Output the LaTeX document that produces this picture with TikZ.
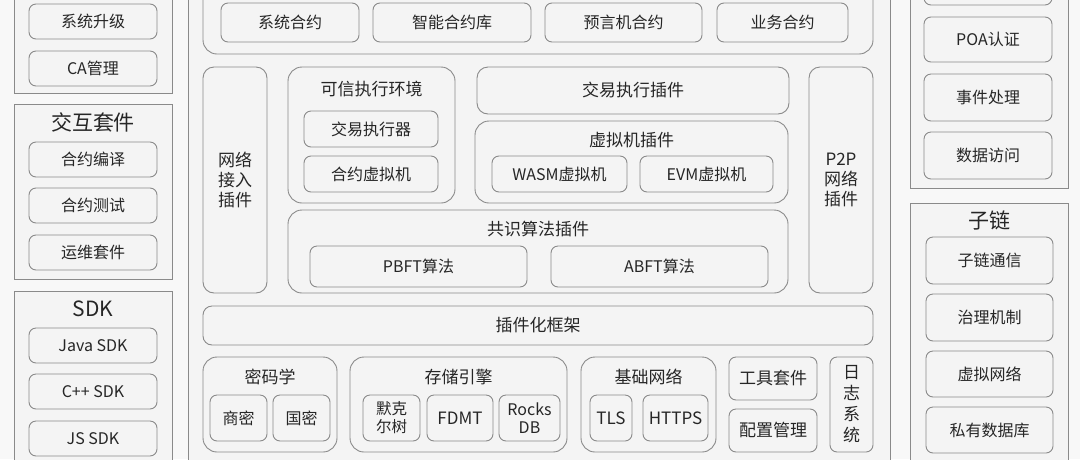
\documentclass[tikz,border=0pt]{standalone}
\usepackage{fontspec}
\setmainfont{Noto Sans CJK SC}
\definecolor{bgc}{HTML}{F8F8F8}
\definecolor{boxc}{HTML}{F4F4F4}
\definecolor{linec}{HTML}{8A8A8A}
\definecolor{textc}{HTML}{262626}
\begin{document}
\begin{tikzpicture}[x=1pt,y=-1pt,
  frame/.style={draw=linec, fill=boxc, line width=0.9pt, inner sep=0pt},
  cont/.style={draw=linec, fill=boxc, line width=0.9pt, rounded corners=14pt, inner sep=0pt},
  item/.style={draw=linec, fill=boxc, line width=0.9pt, rounded corners=7pt, inner sep=0pt, text=textc, font=\fontsize{16}{19}\selectfont, align=center},
  big/.style={item, font=\fontsize{17}{20}\selectfont},
  ttl/.style={text=textc, font=\fontsize{17}{20}\selectfont, inner sep=0pt},
  coltitle/.style={text=textc, font=\fontsize{21}{24}\selectfont, inner sep=0pt}]
\useasboundingbox (0,0) rectangle (1080,459);
\clip (0,0) rectangle (1080,459);
\fill[bgc] (0,0) rectangle (1080,459);

% ---------- left column ----------
\node[frame, minimum width=158pt, minimum height=103pt] (L1) at (93,41.5) {};
\node[item, minimum width=128pt, minimum height=35pt] (sysup) at (93,21.5) {系统升级};
\node[item, minimum width=128pt, minimum height=35pt] (ca) at (93,68.5) {CA管理};

\node[frame, minimum width=158pt, minimum height=175pt] (L2) at (93,191.5) {};
\node[coltitle] (L2t) at (93,122) {交互套件};
\node[item, minimum width=128pt, minimum height=35pt] (compile) at (93,159.5) {合约编译};
\node[item, minimum width=128pt, minimum height=35pt] (test) at (93,205.5) {合约测试};
\node[item, minimum width=128pt, minimum height=35pt] (ops) at (93,252.5) {运维套件};

\node[frame, minimum width=158pt, minimum height=179pt] (L3) at (93,380.5) {};
\node[coltitle] (L3t) at (93,309) {SDK};
\node[item, minimum width=128pt, minimum height=35pt] (java) at (93,345.5) {Java SDK};
\node[item, minimum width=128pt, minimum height=35pt] (cpp) at (93,391.5) {C++ SDK};
\node[item, minimum width=128pt, minimum height=35pt] (js) at (93,438.5) {JS SDK};

% ---------- core frame ----------
\node[frame, minimum width=702pt, minimum height=480pt] (core) at (539,230) {};

\node[cont, minimum width=670pt, minimum height=74pt] (contracts) at (538,17) {};
\node[item, minimum width=138pt, minimum height=39pt] (sc1) at (290,22.5) {系统合约};
\node[item, minimum width=158pt, minimum height=39pt] (sc2) at (452,22.5) {智能合约库};
\node[item, minimum width=157pt, minimum height=39pt] (sc3) at (623.5,22.5) {预言机合约};
\node[item, minimum width=131pt, minimum height=39pt] (sc4) at (782.5,22.5) {业务合约};

\node[big, rounded corners=11pt, minimum width=64pt, minimum height=226pt] (netin) at (235,180) {网络\\接入\\插件};

\node[cont, minimum width=167pt, minimum height=136pt] (tee) at (371.5,135) {};
\node[ttl] (teet) at (371.5,89) {可信执行环境};
\node[item, minimum width=134pt, minimum height=36pt] (txexec) at (371,129) {交易执行器};
\node[item, minimum width=134pt, minimum height=36pt] (cvm) at (371,174) {合约虚拟机};

\node[big, rounded corners=11pt, minimum width=312pt, minimum height=47pt] (txplug) at (633,90.5) {交易执行插件};

\node[cont, minimum width=313pt, minimum height=82pt] (vmplug) at (631.5,162) {};
\node[ttl] (vmplugt) at (631.5,140) {虚拟机插件};
\node[item, minimum width=135pt, minimum height=36pt] (wasm) at (559.5,174) {WASM虚拟机};
\node[item, minimum width=133pt, minimum height=36pt] (evm) at (706.5,174) {EVM虚拟机};

\node[big, rounded corners=11pt, minimum width=64pt, minimum height=226pt] (p2p) at (841,180) {P2P\\网络\\插件};

\node[cont, minimum width=500pt, minimum height=83pt] (cons) at (538,251.5) {};
\node[ttl] (const) at (538,229) {共识算法插件};
\node[item, minimum width=217pt, minimum height=41pt] (pbft) at (418.5,266.5) {PBFT算法};
\node[item, minimum width=217pt, minimum height=41pt] (abft) at (659.5,266.5) {ABFT算法};

\node[big, rounded corners=9pt, minimum width=670pt, minimum height=39pt] (fw) at (538,325.5) {插件化框架};

% bottom row
\node[cont, minimum width=134pt, minimum height=95pt] (crypto) at (270,404.5) {};
\node[ttl] (cryptot) at (270,377) {密码学};
\node[item, minimum width=57pt, minimum height=46pt] (sm) at (238.5,418) {商密};
\node[item, minimum width=57pt, minimum height=46pt] (gm) at (301.5,418) {国密};

\node[cont, minimum width=217pt, minimum height=95pt] (store) at (458.5,404.5) {};
\node[ttl] (storet) at (458.5,377) {存储引擎};
\node[item, minimum width=57pt, minimum height=46pt, font=\fontsize{15.5}{18}\selectfont] (merkle) at (391.5,418) {默克\\尔树};
\node[item, minimum width=66pt, minimum height=46pt, font=\fontsize{17}{20}\selectfont] (fdmt) at (460,418) {FDMT};
\node[item, minimum width=61pt, minimum height=46pt, font=\fontsize{16}{18}\selectfont] (rocks) at (529.5,418) {Rocks\\DB};

\node[cont, minimum width=135pt, minimum height=95pt] (net) at (648.5,404.5) {};
\node[ttl] (nett) at (648.5,377) {基础网络};
\node[item, minimum width=42pt, minimum height=46pt, font=\fontsize{17}{20}\selectfont] (tls) at (611,418) {TLS};
\node[item, minimum width=65pt, minimum height=46pt, font=\fontsize{17}{20}\selectfont] (https) at (675.5,418) {HTTPS};

\node[big, minimum width=88pt, minimum height=43pt] (tools) at (773,378.5) {工具套件};
\node[big, minimum width=88pt, minimum height=43pt] (conf) at (773,430.5) {配置管理};
\node[big, minimum width=43pt, minimum height=95pt, font=\fontsize{17}{21}\selectfont] (log) at (851.5,404.5) {日\\志\\系\\统};

% ---------- right column ----------
\node[frame, minimum width=158pt, minimum height=198pt] (R1) at (989,89) {};
\node[item, minimum width=128pt, minimum height=45pt] (rtop) at (988,-17.5) {};
\node[item, minimum width=128pt, minimum height=45pt] (poa) at (988,39.5) {POA认证};
\node[item, minimum width=128pt, minimum height=47pt] (event) at (988,97.5) {事件处理};
\node[item, minimum width=128pt, minimum height=47pt] (data) at (988,155.5) {数据访问};

\node[frame, minimum width=158pt, minimum height=267pt] (R2) at (989,336.5) {};
\node[coltitle] (R2t) at (989,220) {子链};
\node[item, minimum width=127pt, minimum height=47pt] (subcomm) at (989.5,260.5) {子链通信};
\node[item, minimum width=127pt, minimum height=47pt] (gov) at (989.5,317.5) {治理机制};
\node[item, minimum width=127pt, minimum height=46pt] (vnet) at (989.5,374) {虚拟网络};
\node[item, minimum width=127pt, minimum height=46pt] (pdb) at (989.5,430) {私有数据库};
\end{tikzpicture}
\end{document}
